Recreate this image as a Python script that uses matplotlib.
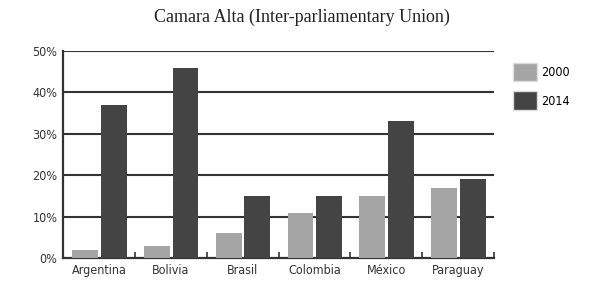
import numpy as np
import matplotlib
matplotlib.use("Agg")
import matplotlib.pyplot as plt
from matplotlib.patches import Patch

# data
countries = ["Argentina", "Bolivia", "Brasil", "Colombia", "México", "Paraguay"]
share_2000 = [2, 3, 6, 11, 15, 17]
share_2014 = [37, 46, 15, 15, 33, 19]
yticks = [0, 10, 20, 30, 40, 50]

c2000 = "#a5a5a5"
c2014 = "#444444"

fig = plt.figure(figsize=(5.89, 2.83), dpi=100)
ax = fig.add_axes([0.107, 0.088, 0.732, 0.732])

x = np.arange(len(countries)) + 0.5
w = 0.36
ax.bar(x - 0.195, share_2000, width=w, color=c2000, zorder=3)
ax.bar(x + 0.205, share_2014, width=w, color=c2014, zorder=3)

ax.set_xlim(0, len(countries))
ax.set_ylim(0, 50)
for v in yticks[1:]:
    ax.axhline(v, color="#333333", lw=1.5, zorder=1)

ax.set_yticks(yticks)
ax.set_yticklabels([f"{v}%" for v in yticks], fontsize=9, fontstretch="condensed", color="#333333")
ax.set_xticks(x)
ax.set_xticklabels(countries, fontsize=9, fontstretch="condensed", color="#333333")
ax.tick_params(axis="both", length=0, pad=4)
# small boundary ticks on the bottom axis
ax.set_xticks(np.arange(len(countries) + 1), minor=True)
ax.tick_params(axis="x", which="minor", direction="in", length=4, width=1.2, color="#333333")

for s in ["top", "right"]:
    ax.spines[s].set_visible(False)
for s in ["left", "bottom"]:
    ax.spines[s].set_color("#333333")
    ax.spines[s].set_linewidth(1.6)

fig.text(0.513, 0.94, "Camara Alta (Inter-parliamentary Union)", ha="center", va="center",
         fontsize=13, family="Liberation Serif", color="#222222")

handles = [Patch(facecolor=c2000, edgecolor="#dddddd"), Patch(facecolor=c2014, edgecolor="#dddddd")]
fig.legend(handles, ["2000", "2014"], loc="upper left", bbox_to_anchor=(0.86, 0.8),
           frameon=False, handlelength=1.9, handleheight=1.9,
           handletextpad=0.4, labelspacing=0.8, borderpad=0,
           prop={"size": 9, "stretch": "condensed"})

fig.savefig("out.png", dpi=100)
